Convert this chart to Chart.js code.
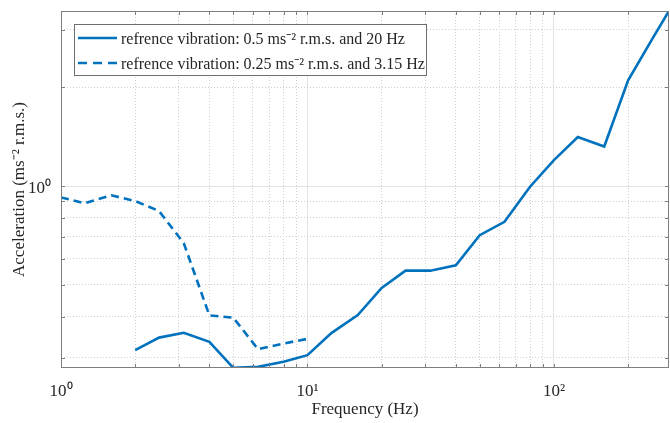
<!DOCTYPE html>
<html>
<head>
<meta charset="utf-8">
<script src="https://cdn.jsdelivr.net/npm/chart.js@4.4.1/dist/chart.umd.min.js"></script>
<style>
html, body { margin: 0; padding: 0; background: #fff; }
</style>
</head>
<body>
<canvas id="chart" width="670" height="423"></canvas>
<script>
// 0.5 ms-2 / 20 Hz reference (solid)
var freq20 = [2, 2.5, 3.15, 4, 5, 6.3, 8, 10, 12.5, 16, 20, 25, 31.5, 40, 50, 63, 80, 100, 125, 160, 200, 250, 293];
var accel20 = [0.316, 0.345, 0.357, 0.335, 0.279, 0.281, 0.291, 0.305, 0.356, 0.404, 0.489, 0.552, 0.552, 0.573, 0.708, 0.778, 0.995, 1.20, 1.41, 1.32, 2.10, 2.80, 3.42];

// 0.25 ms-2 / 3.15 Hz reference (dashed)
var freq315 = [1, 1.25, 1.6, 2, 2.5, 3.15, 4, 5, 6.3, 8, 10];
var accel315 = [0.923, 0.886, 0.937, 0.90, 0.839, 0.669, 0.403, 0.397, 0.318, 0.331, 0.342];

var seriesLabels = [
  "refrence vibration: 0.5 ms\u207B\u00B2 r.m.s. and 20 Hz",
  "refrence vibration: 0.25 ms\u207B\u00B2 r.m.s. and 3.15 Hz"
];

var xTicks = [1, 2, 3, 4, 5, 6, 7, 8, 9, 10, 20, 30, 40, 50, 60, 70, 80, 90, 100, 200];
var yTicks = [0.3, 0.4, 0.5, 0.6, 0.7, 0.8, 0.9, 1, 2, 3];
var majorTicks = [1, 10, 100];
var tickText = { 1: "10\u2070", 10: "10\u00B9", 100: "10\u00B2" };

var blue = "#0072BD";
var frameColor = "#7f7f7f";
var textColor = "#262626";
var serif = "'Liberation Serif', 'Times New Roman', serif";

function toPoints(xs, ys) {
  return xs.map(function(x, i) { return { x: x, y: ys[i] }; });
}

function isMajor(v) {
  return majorTicks.some(function(m) { return Math.abs(m - v) < 1e-9; });
}

function gridColor(ctx) {
  if (!ctx.tick) return frameColor;
  return isMajor(ctx.tick.value) ? "#e3e3e3" : "#cfcfcf";
}

function gridDash(ctx) {
  if (!ctx.tick) return [];
  return isMajor(ctx.tick.value) ? [] : [1, 2];
}

// no extra room for edge labels, the axes box is set by layout padding
function noEdgePadding(scale) {
  scale.paddingTop = 0;
  scale.paddingBottom = 0;
  scale.paddingLeft = 0;
  scale.paddingRight = 0;
}

// frame, inward tick marks and the boxed legend
var matlabAxes = {
  id: "matlabAxes",
  afterDraw: function(chart) {
    var ctx = chart.ctx;
    var a = chart.chartArea;
    var xs = chart.scales.x;
    var ys = chart.scales.y;
    ctx.save();
    ctx.strokeStyle = frameColor;
    ctx.lineWidth = 1;
    ctx.strokeRect(a.left + 0.5, a.top + 0.5, a.right - a.left - 1, a.bottom - a.top - 1);
    ctx.beginPath();
    xTicks.forEach(function(v) {
      var px = Math.round(xs.getPixelForValue(v)) + 0.5;
      ctx.moveTo(px, a.bottom); ctx.lineTo(px, a.bottom - 4);
      ctx.moveTo(px, a.top); ctx.lineTo(px, a.top + 4);
    });
    yTicks.forEach(function(v) {
      var py = Math.round(ys.getPixelForValue(v)) + 0.5;
      ctx.moveTo(a.left, py); ctx.lineTo(a.left + 4, py);
      ctx.moveTo(a.right, py); ctx.lineTo(a.right - 4, py);
    });
    ctx.stroke();

    // legend
    var lx = a.left + 13, ly = a.top + 13, lw = 352, lh = 51;
    ctx.fillStyle = "#fff";
    ctx.fillRect(lx, ly, lw, lh);
    ctx.strokeStyle = "#6e6e6e";
    ctx.strokeRect(lx + 0.5, ly + 0.5, lw, lh);
    ctx.font = "16px " + serif;
    ctx.textBaseline = "middle";
    ctx.textAlign = "left";
    chart.data.datasets.forEach(function(ds, i) {
      var y = ly + 14 + i * 25;
      ctx.beginPath();
      ctx.strokeStyle = ds.borderColor;
      ctx.lineWidth = ds.borderWidth;
      ctx.setLineDash(i === 0 ? [] : [9, 6]);
      ctx.moveTo(lx + 4, y);
      ctx.lineTo(lx + 43, y);
      ctx.stroke();
      ctx.setLineDash([]);
      ctx.fillStyle = textColor;
      ctx.fillText(ds.label, lx + 47, y + 2);
    });
    ctx.restore();
  }
};

new Chart(document.getElementById("chart"), {
  type: "line",
  data: {
    datasets: [
      {
        label: seriesLabels[0],
        data: toPoints(freq20, accel20),
        borderColor: blue,
        borderWidth: 2.6,
        pointRadius: 0,
        tension: 0
      },
      {
        label: seriesLabels[1],
        data: toPoints(freq315, accel315),
        borderColor: blue,
        borderWidth: 2.6,
        borderDash: [8, 5],
        pointRadius: 0,
        tension: 0
      }
    ]
  },
  options: {
    responsive: false,
    animation: false,
    devicePixelRatio: 1,
    layout: { padding: { top: 11, right: 1, left: 0, bottom: 0 } },
    plugins: {
      legend: { display: false },
      tooltip: { enabled: false }
    },
    scales: {
      x: {
        type: "logarithmic",
        min: 1,
        max: 293,
        afterBuildTicks: function(scale) {
          scale.ticks = xTicks.map(function(v) { return { value: v, major: isMajor(v) }; });
        },
        afterFit: function(scale) { scale.height = 55; noEdgePadding(scale); },
        ticks: {
          autoSkip: false,
          maxRotation: 0,
          padding: 13,
          color: textColor,
          font: { family: serif, size: 17 },
          callback: function(value) { return tickText[value] || ""; }
        },
        grid: { color: gridColor, drawTicks: false },
        border: { display: false, dash: gridDash },
        title: {
          display: true,
          text: "Frequency (Hz)",
          color: textColor,
          font: { family: serif, size: 17 },
          padding: { top: 0, bottom: 3 }
        }
      },
      y: {
        type: "logarithmic",
        min: 0.2787,
        max: 3.417,
        afterBuildTicks: function(scale) {
          scale.ticks = yTicks.map(function(v) { return { value: v, major: isMajor(v) }; });
        },
        afterFit: function(scale) { scale.width = 61; noEdgePadding(scale); },
        ticks: {
          autoSkip: false,
          padding: 10,
          labelOffset: 3,
          color: textColor,
          font: { family: serif, size: 17 },
          callback: function(value) { return tickText[value] || ""; }
        },
        grid: { color: gridColor, drawTicks: false },
        border: { display: false, dash: gridDash },
        title: {
          display: true,
          text: "Acceleration (ms\u207B\u00B2 r.m.s.)",
          color: textColor,
          font: { family: serif, size: 17 },
          padding: { top: 9, bottom: 0 }
        }
      }
    }
  },
  plugins: [matlabAxes]
});
</script>
</body>
</html>
